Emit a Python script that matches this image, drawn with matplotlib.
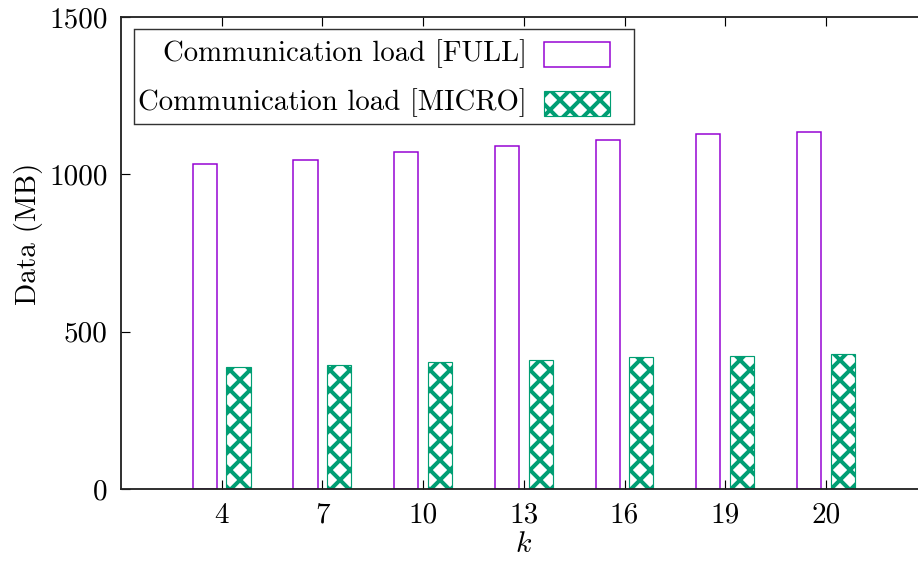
import matplotlib
matplotlib.use("Agg")
import matplotlib.pyplot as plt
from matplotlib.patches import Rectangle
from matplotlib.container import BarContainer
from matplotlib import legend_handler
import numpy as np

k_labels = ["4", "7", "10", "13", "16", "19", "20"]
full_load = [1033, 1045, 1070, 1090, 1108, 1128, 1134]
micro_load = [389, 393, 403, 411, 418, 424, 428]

purple = "#9400d3"
green = "#009e73"

plt.rcParams["font.family"] = "cmr10"
plt.rcParams["mathtext.fontset"] = "cm"
plt.rcParams["axes.formatter.use_mathtext"] = True
plt.rcParams["hatch.color"] = green
plt.rcParams["hatch.linewidth"] = 2.4

# 120 dpi so the cross-hatch repeats every ~20 px
DPI = 120
fig = plt.figure(figsize=(918 / DPI, 563 / DPI), dpi=DPI)
ax = fig.add_axes([121 / 918, 74 / 563, 805.6 / 918, 472 / 563])

x = np.arange(len(k_labels))
w = 0.24
ax.bar(x - 0.167, full_load, w, facecolor="white", edgecolor=purple,
       linewidth=0.9, label="Communication load [FULL]")
ax.bar(x + 0.167, micro_load, w, facecolor="white", edgecolor=green,
       linewidth=0.7, hatch="xx", label="Communication load [MICRO]")

ax.set_xlim(-1, 7)
ax.set_ylim(0, 1500)
ax.set_xticks(x)
ax.set_xticklabels(k_labels)
ax.set_yticks([0, 500, 1000, 1500])
ax.set_yticklabels(["0", "500", "1000", "1500"])
ax.tick_params(direction="in", length=5.4, width=0.7, top=True, right=True,
               labelsize=17.5, pad=8)
for s in ax.spines.values():
    s.set_linewidth(1.1)
    s.set_color("#222222")

ax.set_xlabel("$k$", fontsize=18, labelpad=1)
ax.set_ylabel("Data (MB)", fontsize=17.5, labelpad=6)
ax.yaxis.set_label_coords(-0.0964, 0.54)


# key box fills only the left part of the handle slot (extra room on the right),
# centred a little above the text baseline
def key_box(legend, orig_handle, xdescent, ydescent, width, height, fontsize):
    h = 0.86 * fontsize
    return Rectangle((-xdescent, 0.24 * fontsize - h / 2), width * 66 / 86, h)


key_handler = legend_handler.HandlerPatch(
    patch_func=key_box, update_func=legend_handler.update_from_first_child)

leg = ax.legend(loc="upper left", bbox_to_anchor=(13 / 805.6, 460 / 472),
                borderaxespad=0, markerfirst=False, fontsize=17.3,
                fancybox=False, framealpha=1, edgecolor="#333333",
                handlelength=2.98, handleheight=1.57, labelspacing=0.45,
                handletextpad=0.59, borderpad=0.15,
                handler_map={BarContainer: key_handler})
leg.get_frame().set_linewidth(0.85)

fig.savefig("out.png", dpi=DPI)
